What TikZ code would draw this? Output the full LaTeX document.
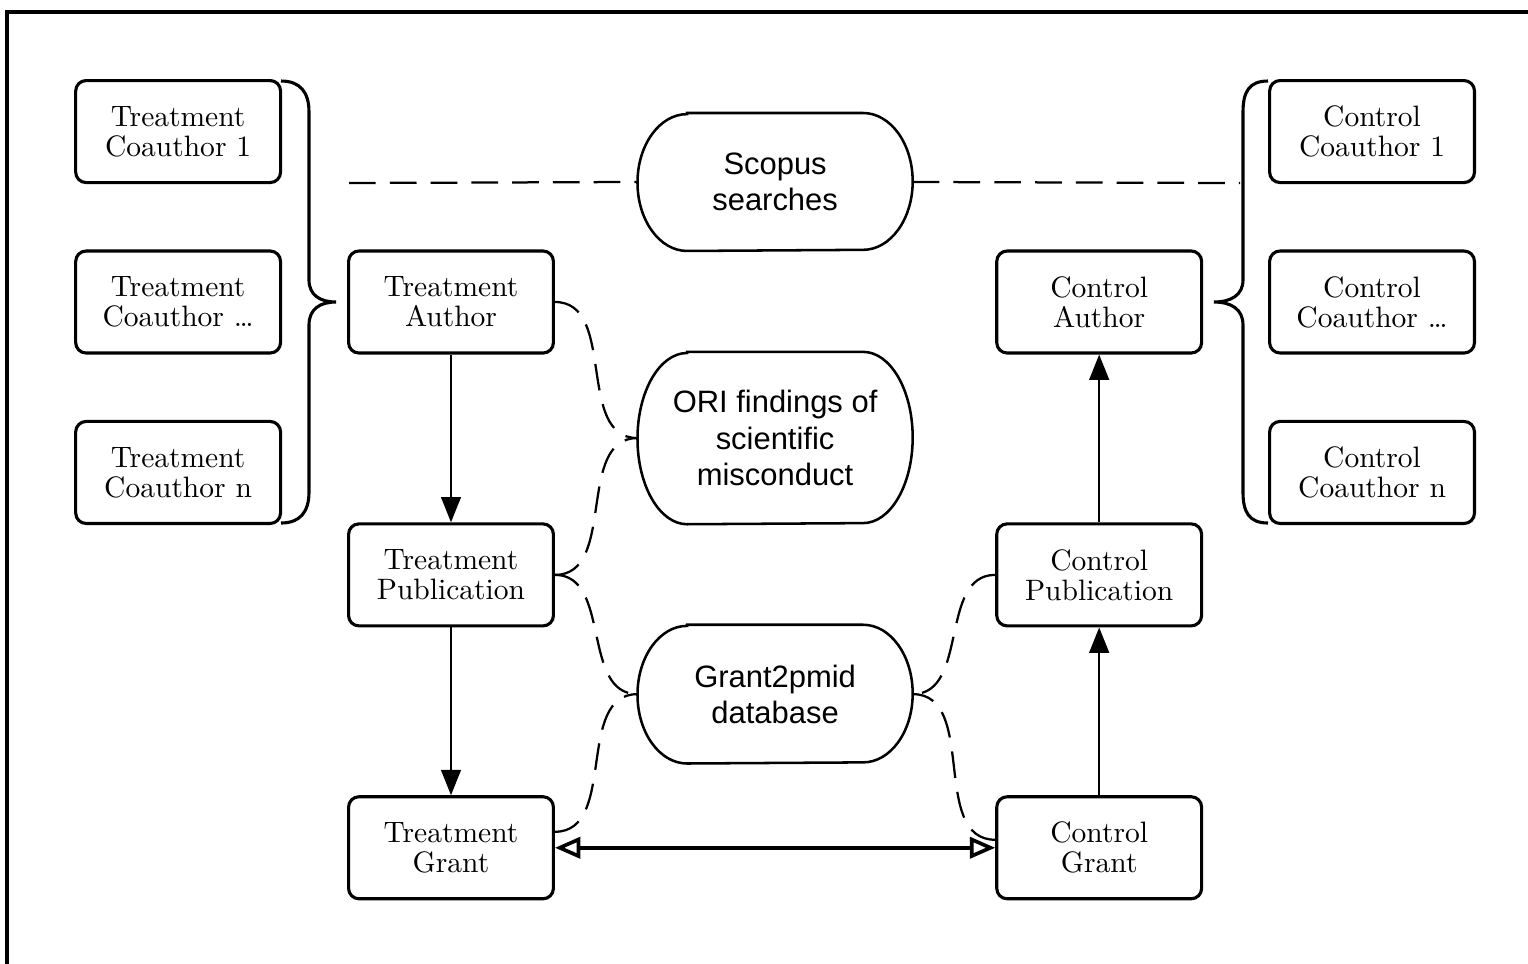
\documentclass[tikz,border=0pt]{standalone}
\usepackage{fontspec}
\newfontfamily\ovalfont{Liberation Sans}
\usetikzlibrary{positioning,arrows.meta}

\tikzset{
  box/.style={draw, line width=1.1pt, rounded corners=0.13cm, minimum width=2.56cm, minimum height=1.275cm, inner sep=1pt, align=center, font=\fontsize{10.5}{10.7}\selectfont},
  src/.style={minimum width=3.425cm, minimum height=#1, inner sep=1pt, align=center, font=\ovalfont\fontsize{11}{12.9}\selectfont},
  srcline/.style={line width=0.9pt},
  dashline/.style={line width=0.8pt, dash pattern=on 9.5pt off 5pt},
  flow/.style={line width=0.8pt, -{Triangle[length=9pt,width=7pt]}},
  match/.style={line width=1.3pt, {Triangle[open,length=9pt,width=7.5pt]}-{Triangle[open,length=9pt,width=7.5pt]}},
  curly/.style={line width=1.1pt}
}

\begin{document}
\begin{tikzpicture}[x=0.0125cm, y=-0.0125cm, on grid, node distance=3.41cm]
\useasboundingbox (0,0) rectangle (1528,963);
% frame
\draw[line width=1.1pt] (7,975) -- (7,12) -- (1540,12);

% treatment side
\node[box] (TA) at (451,302) {Treatment\\Author};
\node[box] (TP) [below=3.41cm of TA] {Treatment\\Publication};
\node[box] (TG) [below=3.41cm of TP] {Treatment\\Grant};
\node[box] (TC2) [left=3.41cm of TA] {Treatment\\Coauthor \ldots};
\node[box] (TC1) [above=2.13cm of TC2] {Treatment\\Coauthor 1};
\node[box] (TC3) [below=2.13cm of TC2] {Treatment\\Coauthor n};

% control side
\node[box] (CA) [right=8.1cm of TA] {Control\\Author};
\node[box] (CP) [below=3.41cm of CA] {Control\\Publication};
\node[box] (CG) [below=3.41cm of CP] {Control\\Grant};
\node[box] (CC2) [right=3.41cm of CA] {Control\\Coauthor \ldots};
\node[box] (CC1) [above=2.13cm of CC2] {Control\\Coauthor 1};
\node[box] (CC3) [below=2.13cm of CC2] {Control\\Coauthor n};

% data sources
\node[src={1.71cm}] (SC) [above right=1.5cm and 4.05cm of TA] {Scopus\\searches};
\node[src={2.14cm}] (ORI) [below right=1.7cm and 4.05cm of TA] {ORI findings of\\scientific\\misconduct};
\node[src={1.72cm}] (G2P) [below right=1.49cm and 4.05cm of TP] {Grant2pmid\\database};

% pill outlines with flattened ends
\foreach \n/\r in {SC/0.855cm, ORI/1.07cm, G2P/0.86cm}
  \draw[srcline] ([xshift=0.62cm]\n.north west) -- ([xshift=-0.62cm]\n.north east)
    arc[start angle=90, end angle=-90, x radius=0.62cm, y radius=\r]
    -- ([xshift=0.62cm]\n.south west)
    arc[start angle=270, end angle=90, x radius=0.62cm, y radius=\r] -- cycle;

% coauthor braces
\draw[curly] (281,81) .. controls (300,81) and (309,92) .. (309,112) -- (309,280)
  .. controls (309,295) and (320,302) .. (336,302)
  .. controls (320,302) and (309,309) .. (309,325) -- (309,492)
  .. controls (309,512) and (300,523) .. (281,523);
\draw[curly] (1268,81) .. controls (1249,81) and (1243,92) .. (1243,112) -- (1243,280)
  .. controls (1243,295) and (1231,302) .. (1214,302)
  .. controls (1231,302) and (1243,309) .. (1243,325) -- (1243,492)
  .. controls (1243,512) and (1249,523) .. (1268,523);

% scopus search line
\coordinate (SL) at (349,183);
\coordinate (SR) at (1240,183);
\draw[dashline] (SL) -- (SC.west);
\draw[dashline] (SC.east) -- (SR);

% links to the sources
\draw[dashline] (TA.east) to[out=0,in=180] (ORI.west);
\draw[dashline] (TP.east) to[out=0,in=180] (ORI.west);
\draw[dashline] (TP.east) to[out=0,in=180] (G2P.west);
\draw[dashline] ([yshift=0.2cm]TG.east) to[out=0,in=180] (G2P.west);
\draw[dashline] (CP.west) to[out=180,in=0] (G2P.east);
\draw[dashline] ([yshift=0.1cm]CG.west) to[out=180,in=0] (G2P.east);

% flow
\draw[flow] (TA) -- (TP);
\draw[flow] (TP) -- (TG);
\draw[flow] (CG) -- (CP);
\draw[flow] (CP) -- (CA);
\draw[match] (TG) -- (CG);
\end{tikzpicture}
\end{document}
